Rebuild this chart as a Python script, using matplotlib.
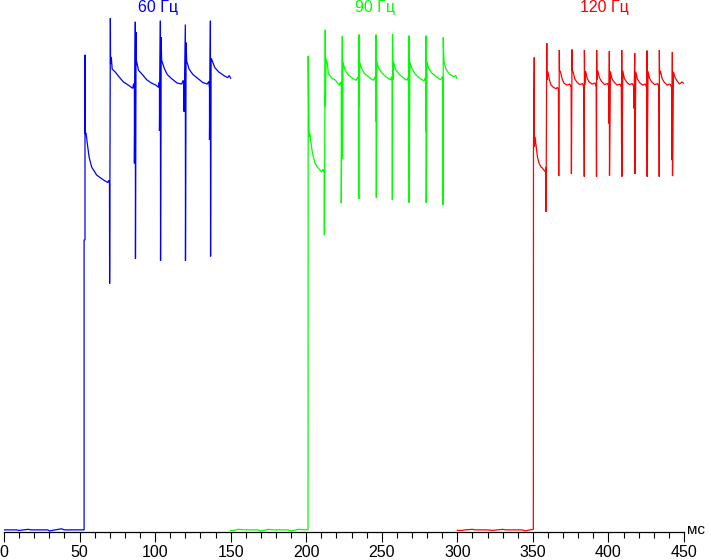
import matplotlib
matplotlib.use("Agg")
import matplotlib.pyplot as plt
from matplotlib.ticker import MultipleLocator

# ---- datos: tiempo (ms) y brillo (0-100, unidades relativas) ----
t60 = [0, 8, 10, 16, 18, 29, 30, 38, 40, 52.8,
       53.0, 53.0, 53.6, 53.6, 53.7, 54.3, 55.1, 56.3, 58.0, 61.3, 65.7, 68.6, 69.3, 69.8,
       69.9, 70.4, 70.5, 71.0, 71.6, 73.5, 75.7, 79.0, 82.3, 85.2, 85.8, 86.3,
       86.3, 86.9, 87.0, 87.4, 87.6, 89.0, 91.5, 94.5, 97.5, 100.5, 102.2, 102.6, 102.9,
       102.9, 103.5, 103.6, 104.0, 104.3, 106.0, 108.0, 111.0, 114.5, 117.5, 118.6, 119.0,
       119.2, 120.0, 120.1, 120.5, 120.9, 122.5, 125.0, 128.5, 131.5, 134.5, 135.5, 136.0,
       136.0, 136.6, 136.7, 137.0, 137.5, 139.5, 142.0, 145.5, 148.0, 149.0, 150.0]
v60 = [0.4, 0.4, 0.3, 0.5, 0.4, 0.4, 0.2, 0.6, 0.4, 0.4,
       0.4, 54.9, 54.9, 89.7, 74.9, 75.0, 73.1, 70.5, 68.6, 67.1, 66.2, 65.7, 66.1, 65.5,
       46.7, 96.6, 88.0, 89.3, 87.0, 86.5, 85.7, 84.6, 84.0, 83.4, 84.3, 83.2,
       69.3, 95.9, 51.4, 94.0, 88.7, 86.8, 86.0, 85.0, 84.4, 84.0, 83.6, 84.5, 83.3,
       75.4, 96.1, 51.0, 93.0, 88.7, 87.2, 86.0, 85.2, 84.4, 84.2, 84.9, 83.5,
       79.0, 95.4, 51.0, 92.0, 88.5, 87.0, 86.0, 85.2, 84.5, 84.2, 84.7, 83.4,
       73.7, 96.1, 51.8, 89.0, 88.8, 87.3, 86.5, 85.8, 85.4, 85.8, 85.3]

t90 = [150, 152, 155, 160, 168, 170, 175, 178, 188, 190, 195, 201.2,
       201.3, 201.6, 201.85, 202.5, 203.2, 204.1, 205.8, 208.0, 210.2, 211.2, 211.9,
       212.0, 212.6, 212.7, 213.1, 214.0, 214.6, 216.9, 219.1, 221.9, 222.8, 223.2,
       223.2, 223.9, 224.0, 224.3, 225.5, 227.5, 230.5, 233.0, 234.3, 234.7,
       234.8, 234.9, 235.0, 235.4, 236.5, 238.5, 241.5, 244.5, 245.6, 246.0,
       246.0, 246.2, 246.4, 246.7, 247.8, 250.0, 253.0, 255.7, 256.6, 256.9,
       257.0, 257.1, 257.4, 257.8, 259.0, 261.0, 264.0, 266.8, 267.6, 267.9,
       267.9, 268.0, 268.1, 268.6, 269.8, 272.0, 275.0, 278.0, 278.9, 279.2,
       279.2, 279.3, 279.4, 279.9, 281.0, 283.0, 286.0, 289.0, 290.1, 290.4,
       290.5, 290.7, 290.8, 291.2, 292.5, 295.0, 297.5, 299.0, 299.6]
v90 = [0.3, 0.3, 0.5, 0.4, 0.4, 0.2, 0.5, 0.4, 0.4, 0.2, 0.5, 0.4,
       89.5, 79.9, 74.3, 74.9, 73.1, 71.2, 69.3, 68.4, 67.7, 68.2, 67.4,
       55.8, 94.4, 80.0, 89.0, 88.1, 86.2, 85.3, 85.0, 84.0, 84.6, 83.8,
       61.8, 93.2, 70.2, 88.4, 87.0, 86.0, 85.3, 84.9, 85.6, 84.5,
       62.6, 93.5, 80.0, 88.4, 87.2, 86.2, 85.5, 84.9, 85.6, 84.3,
       77.1, 93.5, 62.8, 88.4, 87.3, 86.3, 85.5, 85.0, 85.6, 84.5,
       62.4, 93.6, 85.0, 88.4, 87.0, 86.2, 85.4, 84.9, 85.6, 84.4,
       66.0, 93.3, 61.9, 88.4, 87.2, 86.1, 85.3, 84.8, 85.5, 84.4,
       75.2, 93.3, 61.9, 88.4, 87.2, 86.3, 85.6, 85.0, 85.6, 84.6,
       61.5, 93.0, 91.2, 88.4, 87.0, 86.0, 85.6, 85.8, 85.3]

t120 = [300, 303, 305, 310, 312, 320, 323, 330, 332, 343, 345, 348, 350.3,
        350.4, 350.9, 351.0, 351.4, 352.1, 353.0, 354.1, 355.2, 356.3, 357.4, 358.3, 358.6,
        358.7, 359.2, 359.3, 360.0, 360.9, 362.0, 363.6, 365.3, 366.2, 366.9,
        367.1, 367.5, 367.6, 368.3, 369.3, 370.5, 372.5, 374.5, 375.3,
        375.5, 375.9, 376.0, 376.7, 377.7, 379.0, 381.0, 383.0, 383.7,
        384.0, 384.1, 384.3, 384.9, 385.9, 387.2, 389.2, 391.2, 391.9,
        392.1, 392.2, 392.4, 393.0, 394.0, 395.4, 397.4, 399.4, 400.2,
        400.3, 400.6, 400.7, 401.3, 402.3, 403.7, 405.7, 407.7, 408.5,
        408.7, 408.8, 408.9, 409.5, 410.5, 411.9, 413.9, 415.9, 416.8,
        416.9, 417.4, 417.5, 418.1, 419.1, 420.5, 422.5, 424.5, 425.3,
        425.4, 425.5, 425.6, 426.2, 427.2, 428.6, 430.6, 432.6, 433.4,
        433.6, 433.7, 433.8, 434.4, 435.4, 436.8, 438.8, 440.8, 441.8,
        442.0, 442.3, 442.4, 443.0, 444.0, 445.4, 447.0, 448.0, 448.8, 449.6]
v120 = [0.3, 0.3, 0.4, 0.5, 0.4, 0.4, 0.3, 0.5, 0.4, 0.4, 0.2, 0.4, 0.5,
        72.4, 89.2, 72.4, 74.3, 72.7, 70.5, 69.3, 68.7, 68.4, 68.0, 67.7, 68.5,
        60.2, 91.9, 85.0, 86.5, 85.0, 84.0, 83.6, 83.3, 83.6, 83.2,
        66.9, 90.6, 86.8, 86.5, 85.2, 84.4, 84.0, 84.2, 83.6,
        67.3, 90.7, 86.8, 86.4, 85.2, 84.6, 84.1, 84.3, 83.5,
        66.8, 90.6, 84.0, 86.6, 85.3, 84.6, 84.2, 84.4, 83.6,
        66.8, 90.6, 85.0, 86.7, 85.4, 84.7, 84.1, 84.3, 83.7,
        76.8, 90.4, 67.0, 86.6, 85.2, 84.6, 84.0, 84.2, 83.6,
        72.6, 90.6, 66.8, 86.7, 85.3, 84.6, 84.1, 84.3, 83.6,
        79.6, 90.0, 67.3, 86.5, 85.2, 84.5, 84.0, 84.2, 83.5,
        69.8, 90.5, 66.8, 86.6, 85.3, 84.6, 84.1, 84.3, 83.6,
        66.8, 90.6, 86.0, 86.7, 85.3, 84.6, 84.0, 84.2, 83.6,
        69.9, 90.2, 66.9, 86.5, 85.5, 84.8, 84.2, 84.4, 84.6, 84.4]

labels = ["60 Гц", "90 Гц", "120 Гц"]
label_x = [102, 245.5, 397.5]
colores = ["#0000ff", "#00ff00", "#ff0000"]

fig = plt.figure(figsize=(7.11, 5.6), dpi=100)
ax = fig.add_axes([4 / 711, 28 / 560, 680 / 711, 532 / 560])

for t, v, c in zip([t60, t90, t120], [v60, v90, v120], colores):
    ax.plot(t, v, color=c, lw=0.9, solid_joinstyle="miter")

for lab, x, c in zip(labels, label_x, colores):
    ax.text(x, 98.6, lab, color=c, ha="center", va="center",
            fontsize=11.5, family=["Liberation Sans", "DejaVu Sans"])

ax.set_xlim(0, 450)
ax.set_ylim(0, 100)
for s in ["left", "top", "right"]:
    ax.spines[s].set_visible(False)
ax.spines["bottom"].set_linewidth(0.9)
ax.set_yticks([])
ax.xaxis.set_major_locator(MultipleLocator(50))
ax.xaxis.set_minor_locator(MultipleLocator(10))
ax.tick_params(axis="x", which="major", length=7.2, width=0.8, pad=2.0,
               labelsize=11.5)
ax.tick_params(axis="x", which="minor", length=4.3, width=0.8)
for lbl in ax.get_xticklabels():
    lbl.set_family(["Liberation Sans Narrow", "Liberation Sans"])
ax.text(458, -0.3, "мс", ha="center", va="baseline", fontsize=11,
        family=["Liberation Sans Narrow", "Liberation Sans"], clip_on=False)

fig.savefig("out.png", dpi=100)
